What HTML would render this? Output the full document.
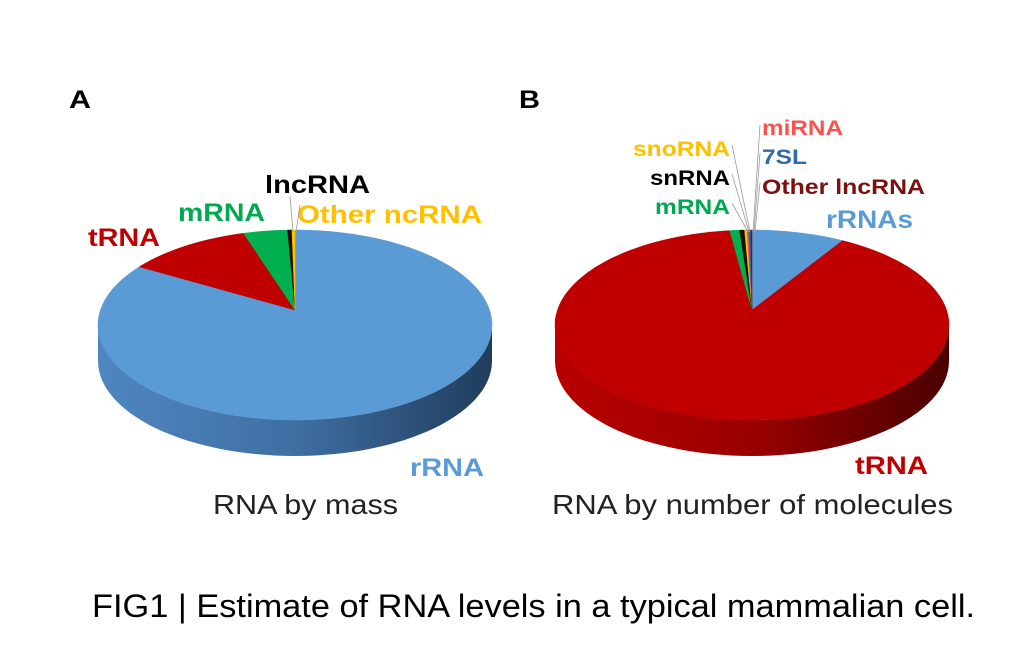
<!DOCTYPE html>
<html><head><meta charset="utf-8"><style>
html,body{margin:0;padding:0;background:#fff;}
svg{display:block;font-family:"Liberation Sans",Arial,sans-serif;}
</style></head><body>
<svg id="fig" width="1011" height="653" viewBox="0 0 1011 653" xmlns="http://www.w3.org/2000/svg">
<defs>
<linearGradient id="gBlue" x1="0" x2="1" y1="0" y2="0">
<stop offset="0" stop-color="#4f86c0"/><stop offset="0.5" stop-color="#3f6fa3"/><stop offset="1" stop-color="#203c5c"/></linearGradient>
<linearGradient id="gRed" x1="0" x2="1" y1="0" y2="0">
<stop offset="0" stop-color="#b80000"/><stop offset="0.5" stop-color="#9a0000"/><stop offset="1" stop-color="#4a0000"/></linearGradient>
</defs>
<text x="69" y="108" font-size="25" font-weight="bold" textLength="22" lengthAdjust="spacingAndGlyphs">A</text>
<text x="519" y="108" font-size="25" font-weight="bold" textLength="21" lengthAdjust="spacingAndGlyphs">B</text>
<g id="pieA"></g>
<g id="pieB"></g>
<g font-weight="bold" font-size="25" lengthAdjust="spacingAndGlyphs">
<text x="88" y="246" fill="#c00000" textLength="72" lengthAdjust="spacingAndGlyphs">tRNA</text>
<text x="178" y="221" fill="#00a84f" textLength="87" lengthAdjust="spacingAndGlyphs">mRNA</text>
<text x="265" y="193" fill="#000" textLength="105" lengthAdjust="spacingAndGlyphs">lncRNA</text>
<text x="297" y="223" fill="#ffc000" textLength="185" lengthAdjust="spacingAndGlyphs">Other ncRNA</text>
<text x="410" y="476" fill="#5b9bd5" textLength="74" lengthAdjust="spacingAndGlyphs">rRNA</text>
<text x="826" y="228" fill="#5b9bd5" textLength="87" lengthAdjust="spacingAndGlyphs">rRNAs</text>
<text x="855" y="474" fill="#c00000" textLength="73" lengthAdjust="spacingAndGlyphs">tRNA</text>
</g>
<g font-weight="bold" font-size="21">
<text x="633" y="156" fill="#ffc000" textLength="97" lengthAdjust="spacingAndGlyphs">snoRNA</text>
<text x="650" y="185" fill="#000" textLength="80" lengthAdjust="spacingAndGlyphs">snRNA</text>
<text x="655" y="214" fill="#00a84f" textLength="75" lengthAdjust="spacingAndGlyphs">mRNA</text>
<text x="762" y="135" fill="#ff5050" textLength="81" lengthAdjust="spacingAndGlyphs">miRNA</text>
<text x="762" y="164" fill="#2e6aa6" textLength="45" lengthAdjust="spacingAndGlyphs">7SL</text>
<text x="762" y="194" fill="#7b1010" textLength="163" lengthAdjust="spacingAndGlyphs">Other lncRNA</text>
</g>
<g stroke="#999" stroke-width="0.8" fill="none">
<line x1="290" y1="196" x2="293" y2="232"/>
<line x1="300" y1="205" x2="296" y2="232"/>
<line x1="732" y1="145" x2="750" y2="232"/>
<line x1="732" y1="174" x2="749" y2="232"/>
<line x1="732" y1="203" x2="748" y2="232"/>
<line x1="760" y1="125" x2="753" y2="232"/>
<line x1="760" y1="153" x2="754" y2="232"/>
<line x1="760" y1="183" x2="755" y2="232"/>
</g>
<text x="213" y="514" font-size="28" fill="#222" textLength="185" lengthAdjust="spacingAndGlyphs">RNA by mass</text>
<text x="552" y="514" font-size="28" fill="#222" textLength="401" lengthAdjust="spacingAndGlyphs">RNA by number of molecules</text>
<text x="92" y="617" font-size="32" fill="#000" textLength="883" lengthAdjust="spacingAndGlyphs">FIG1 | Estimate of RNA levels in a typical mammalian cell.</text>
</svg>
<script>
var catsA = ["rRNA","tRNA","mRNA","lncRNA","Other ncRNA"];
var valsA = [85.5, 10.3, 3.6, 0.35, 0.25];
var colsA = ["#5b9bd5","#c00000","#00b050","#111111","#ffc000"];
var catsB = ["rRNAs","tRNA","mRNA","snRNA","snoRNA","miRNA","7SL","Other lncRNA"];
var valsB = [7.6, 90.6, 0.8, 0.4, 0.2, 0.1, 0.2, 0.1];
var colsB = ["#5b9bd5","#c00000","#00b050","#111111","#ffc000","#ff5050","#2e6aa6","#7b1010"];
var NS="http://www.w3.org/2000/svg";
function drawPie(gid, cats, vals, cols, cx, sideFill, bigIdx){
  var g=document.getElementById(gid);
  var cy=325, rx=197, ry=95, depth=36, ay=310;
  var tot=vals.reduce(function(a,b){return a+b;},0);
  function pt(t,dy){return [cx+rx*Math.cos(t), cy+ry*Math.sin(t)+(dy||0)];}
  var t=-Math.PI/2, slices=[];
  for(var i=0;i<vals.length;i++){var d=vals[i]/tot*2*Math.PI; slices.push([t,t+d]); t+=d;}
  for(var i=0;i<slices.length;i++){
    var a0=slices[i][0], a1=slices[i][1];
    var segs=[[a0,a1],[a0-2*Math.PI,a1-2*Math.PI]];
    segs.forEach(function(s){
      var s0=Math.max(s[0],0), s1=Math.min(s[1],Math.PI);
      if(s1<=s0) return;
      var top=[],bot=[],n=60;
      for(var k=0;k<=n;k++){var tt=s0+(s1-s0)*k/n; top.push(pt(tt)); bot.push(pt(tt,depth));}
      bot.reverse();
      var p=document.createElementNS(NS,"path");
      p.setAttribute("d","M"+top.concat(bot).map(function(q){return q[0].toFixed(1)+","+q[1].toFixed(1);}).join("L")+"Z");
      p.setAttribute("fill", i===bigIdx ? sideFill : cols[i]);
      
      
      g.appendChild(p);
    });
  }
  for(var i=0;i<slices.length;i++){
    var a0=slices[i][0], a1=slices[i][1], pts=[], n=Math.max(2,Math.ceil((a1-a0)*40));
    for(var k=0;k<=n;k++){pts.push(pt(a0+(a1-a0)*k/n));}
    var d="M"+cx+","+ay+"L"+pts.map(function(q){return q[0].toFixed(1)+","+q[1].toFixed(1);}).join("L")+"Z";
    var p=document.createElementNS(NS,"path");
    p.setAttribute("d",d);
    p.setAttribute("fill",cols[i]);
    p.setAttribute("stroke",cols[i]);
    p.setAttribute("stroke-width","0.5");
    
    
    g.appendChild(p);
  }
}
drawPie("pieA", catsA, valsA, colsA, 295, "url(#gBlue)", 0);
drawPie("pieB", catsB, valsB, colsB, 752, "url(#gRed)", 1);
</script>
</body></html>
